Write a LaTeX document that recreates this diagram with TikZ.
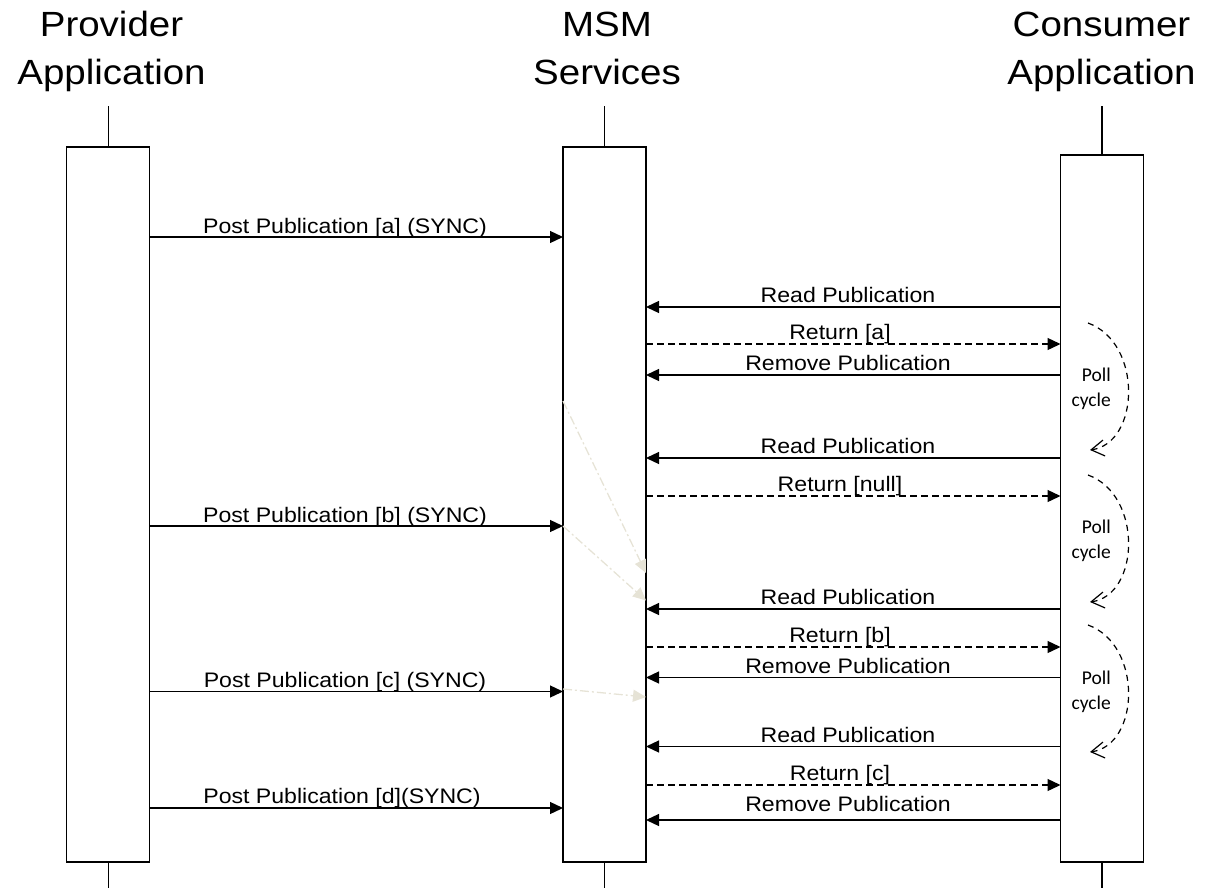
\documentclass[tikz,border=0pt]{standalone}
\usepackage{fontspec}
\setmainfont{Liberation Sans}[FakeStretch=1.1]
\newfontfamily\pollfont{Carlito}
\usetikzlibrary{arrows.meta}
\definecolor{hintgray}{HTML}{E6E3D6}

\begin{document}
\begin{tikzpicture}[x=1pt,y=-1pt,
  lifebox/.style={draw, line width=1.3pt, minimum width=83pt, inner sep=0pt, outer sep=0pt},
  stem/.style={line width=1.3pt},
  msg/.style={line width=1.3pt, -{Triangle[length=13pt,width=12pt]}},
  reply/.style={msg, dash pattern=on 7pt off 4pt},
  hint/.style={line width=1.3pt, color=hintgray, dash pattern=on 9pt off 3pt on 2pt off 3pt, -{Triangle[length=13pt,width=12pt]}},
  lbl/.style={font=\fontsize{21}{24}\selectfont, anchor=base, inner sep=0pt},
  title/.style={font=\fontsize{35}{48}\selectfont, align=center, anchor=base, inner sep=0pt},
  poll/.style={line width=1.2pt, dash pattern=on 6pt off 5pt, -{Straight Barb[length=13pt,width=16pt]}},
  polltext/.style={font=\pollfont\fontsize{19.5}{25}\selectfont, align=right, anchor=base east, inner sep=0pt}
]
\useasboundingbox (0,0) rectangle (1218,888);

% lifeline titles (anchored at the baseline of the second line)
\node[title] (tprov) at (111.5,85) {Provider\\Application};
\node[title] (tmsm)  at (607,85)   {MSM\\Services};
\node[title] (tcons) at (1101.5,85) {Consumer\\Application};

% activation boxes
\node[lifebox, minimum height=715pt] (prov) at (108.3,504.5) {};
\node[lifebox, minimum height=715pt] (msm)  at (604.5,504.5) {};
\node[lifebox, minimum height=707pt] (cons) at (1102,508.5) {};

% lifeline stems
\coordinate (top) at (0,106);
\coordinate (bottom) at (0,888);
\foreach \b in {prov,msm,cons}{
  \draw[stem] (\b.north) -- (\b.north |- top);
  \draw[stem] (\b.south) -- (\b.south |- bottom);
}

% message rows
\coordinate (pa) at (0,237);
\coordinate (pb) at (0,526);
\coordinate (pc) at (0,691.5);
\coordinate (pd) at (0,808);
\coordinate (r1) at (0,307);
\coordinate (a1) at (0,344);
\coordinate (d1) at (0,375);
\coordinate (r2) at (0,458);
\coordinate (a2) at (0,496);
\coordinate (r3) at (0,609);
\coordinate (a3) at (0,647);
\coordinate (d3) at (0,677.5);
\coordinate (r4) at (0,746.5);
\coordinate (a4) at (0,785);
\coordinate (d4) at (0,820);

% provider -> services
\draw[msg] (prov.east |- pa) -- (msm.west |- pa);
\draw[msg] (prov.east |- pb) -- (msm.west |- pb);
\draw[msg] (prov.east |- pc) -- (msm.west |- pc);
\draw[msg] (prov.east |- pd) -- (msm.west |- pd);
\node[lbl] (lpa) at (345,233) {Post Publication [a] (SYNC)};
\node[lbl] (lpb) at (345,522) {Post Publication [b] (SYNC)};
\node[lbl] (lpc) at (345,687.5) {Post Publication [c] (SYNC)};
\node[lbl] (lpd) at (342,803) {Post Publication [d](SYNC)};

% consumer -> services
\foreach \r in {r1,d1,r2,r3,d3,r4,d4}
  \draw[msg] (cons.west |- \r) -- (msm.east |- \r);
\node[lbl] (lr1) at (848,302.5) {Read Publication};
\node[lbl] (ld1) at (848,370.5) {Remove Publication};
\node[lbl] (lr2) at (848,453.5) {Read Publication};
\node[lbl] (lr3) at (848,604.5) {Read Publication};
\node[lbl] (ld3) at (848,673) {Remove Publication};
\node[lbl] (lr4) at (848,742) {Read Publication};
\node[lbl] (ld4) at (848,811) {Remove Publication};

% services -> consumer replies
\foreach \a in {a1,a2,a3,a4}
  \draw[reply] (msm.east |- \a) -- (cons.west |- \a);
\node[lbl] (la1) at (840,339.5) {Return [a]};
\node[lbl] (la2) at (840,491.5) {Return [null]};
\node[lbl] (la3) at (840,642.5) {Return [b]};
\node[lbl] (la4) at (840,780.5) {Return [c]};

% faint hand-off hints inside the services box
\coordinate (h1s) at (0,401);   \coordinate (h1e) at (0,573);
\coordinate (h2s) at (0,526);   \coordinate (h2e) at (0,600.5);
\coordinate (h3s) at (0,689);   \coordinate (h3e) at (0,697);
\draw[hint] (msm.west |- h1s) -- (msm.east |- h1e);
\draw[hint] (msm.west |- h2s) -- (msm.east |- h2e);
\draw[hint] (msm.west |- h3s) -- (msm.east |- h3e);

% poll cycles
\foreach \y in {323,475,625}{
  \draw[poll] (1088,\y) .. controls (1143,\y+20) and (1140,\y+120) .. (1090,\y+127);
}
\node[polltext] (pc1) at (1111,406) {Poll\\cycle};
\node[polltext] (pc2) at (1111,558) {Poll\\cycle};
\node[polltext] (pc3) at (1111,709) {Poll\\cycle};
\end{tikzpicture}
\end{document}
